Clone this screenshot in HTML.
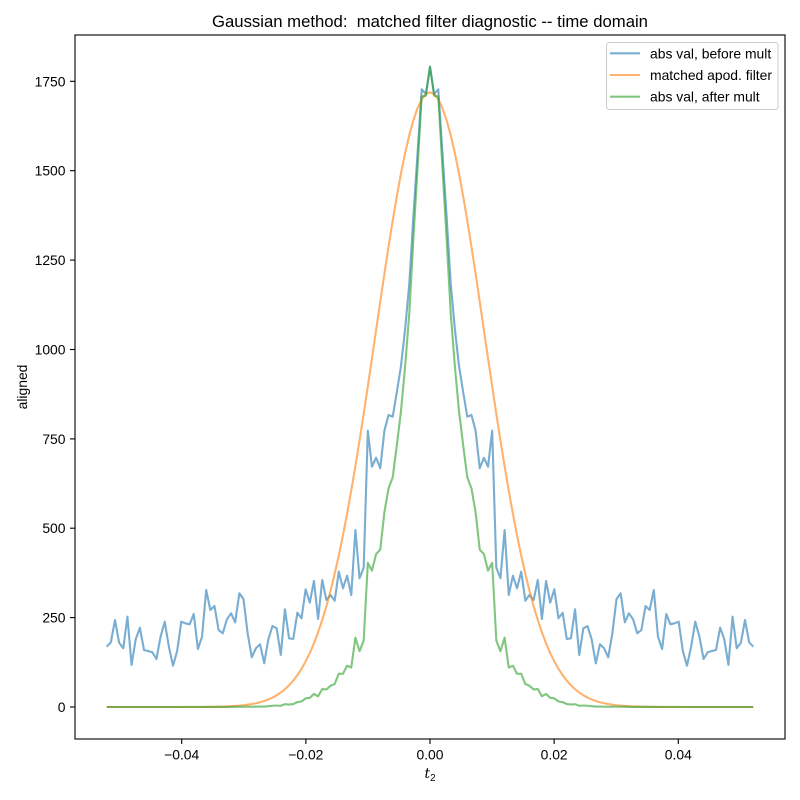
<!DOCTYPE html>
<html><head><meta charset="utf-8"><style>
html,body{margin:0;padding:0;background:#fff;}
svg{display:block;}
text{font-family:"Liberation Sans",Arial,sans-serif;fill:#000;}
</style></head><body>
<svg id="s" width="800" height="800" viewBox="0 0 800 800" xmlns="http://www.w3.org/2000/svg">
<rect x="0" y="0" width="800" height="800" fill="#fff"/>
<defs><clipPath id="c"><rect x="75" y="35" width="710" height="704"/></clipPath></defs>
<g clip-path="url(#c)">
<polyline id="pb" fill="none" stroke="#1f77b4" stroke-opacity="0.6" stroke-width="2.1" stroke-linejoin="round" points=""/>
<polyline id="po" fill="none" stroke="#ff7f0e" stroke-opacity="0.6" stroke-width="2.1" stroke-linejoin="round" points=""/>
<polyline id="pg" fill="none" stroke="#2ca02c" stroke-opacity="0.6" stroke-width="2.1" stroke-linejoin="round" points=""/>
</g>
<rect x="75" y="35" width="710" height="704" fill="none" stroke="#000" stroke-width="1.1"/>
<g stroke="#000" stroke-width="1.1">
<line x1="181.7" y1="739" x2="181.7" y2="744"/>
<line x1="305.85" y1="739" x2="305.85" y2="744"/>
<line x1="430" y1="739" x2="430" y2="744"/>
<line x1="554.15" y1="739" x2="554.15" y2="744"/>
<line x1="678.3" y1="739" x2="678.3" y2="744"/>
<line x1="70" y1="707" x2="75" y2="707"/>
<line x1="70" y1="617.6" x2="75" y2="617.6"/>
<line x1="70" y1="528.2" x2="75" y2="528.2"/>
<line x1="70" y1="438.9" x2="75" y2="438.9"/>
<line x1="70" y1="349.5" x2="75" y2="349.5"/>
<line x1="70" y1="260.1" x2="75" y2="260.1"/>
<line x1="70" y1="170.7" x2="75" y2="170.7"/>
<line x1="70" y1="81.3" x2="75" y2="81.3"/>
</g>
<g font-size="13.9" text-anchor="middle">
<text x="181.7" y="759.5">−0.04</text>
<text x="305.85" y="759.5">−0.02</text>
<text x="430" y="759.5">0.00</text>
<text x="554.15" y="759.5">0.02</text>
<text x="678.3" y="759.5">0.04</text>
</g>
<g font-size="13.9" text-anchor="end">
<text x="65.5" y="712">0</text>
<text x="65.5" y="622.6">250</text>
<text x="65.5" y="533.2">500</text>
<text x="65.5" y="443.9">750</text>
<text x="65.5" y="354.5">1000</text>
<text x="65.5" y="265.1">1250</text>
<text x="65.5" y="175.7">1500</text>
<text x="65.5" y="86.3">1750</text>
</g>
<text x="430" y="778" font-size="13.9" text-anchor="middle"><tspan font-style="italic" font-family="'DejaVu Serif','Liberation Serif',serif">t</tspan><tspan font-size="9.7" dy="3">2</tspan></text>
<text x="0" y="0" font-size="13.9" text-anchor="middle" transform="translate(27,387) rotate(-90)">aligned</text>
<text x="430" y="27" font-size="16.7" text-anchor="middle" xml:space="preserve" style="white-space:pre">Gaussian method:  matched filter diagnostic -- time domain</text>
<rect x="606.5" y="42.5" width="171.5" height="67" rx="3" ry="3" fill="#fff" fill-opacity="0.8" stroke="#cccccc" stroke-width="1"/>
<line x1="610" y1="53.3" x2="640" y2="53.3" stroke="#1f77b4" stroke-opacity="0.6" stroke-width="2.1"/>
<line x1="610" y1="75" x2="640" y2="75" stroke="#ff7f0e" stroke-opacity="0.6" stroke-width="2.1"/>
<line x1="610" y1="96.7" x2="640" y2="96.7" stroke="#2ca02c" stroke-opacity="0.6" stroke-width="2.1"/>
<g font-size="13.9">
<text x="650" y="58.3">abs val, before mult</text>
<text x="650" y="80">matched apod. filter</text>
<text x="650" y="101.7">abs val, after mult</text>
</g>
</svg>
<script>
(function(){
var L=[646.7,642.3,620,642.7,648.3,616.7,665,639.3,627.7,650,
651,652.3,659,636.7,621.7,646.7,665.7,651,621.7,623.3,
624.3,614,649,636.7,590,610,606,630,633.3,619.3,
613.3,622.3,593.3,599,633.3,657.3,648.3,644.3,663.3,639.3,
626,628.3,655,609.3,638.3,639,612.7,618.3,589.3,602.7,
581,619,580,600,595,600.7,571.7,588.3,575.7,595,
530,578.3,567.7,430.7,466.7,457.7,468.3,430.7,415,416.7,
392,366,329,284,216,153,89.3,94,66.7];
var y0=707, sp=323.3/78, sig=54.5, oh=614.7;
var b=[],o=[],g=[];
for(var k=0;k<=156;k++){
  var kk=k<=78?k:156-k;
  var x=430+(k-78)*sp;
  var d=x-430;
  var gg=Math.exp(-d*d/(2*sig*sig));
  var yb=L[kk];
  b.push(x.toFixed(2)+","+yb.toFixed(2));
  o.push(x.toFixed(2)+","+(y0-oh*gg).toFixed(2));
  g.push(x.toFixed(2)+","+(y0-(y0-yb)*gg).toFixed(2));
}
document.getElementById("pb").setAttribute("points",b.join(" "));
document.getElementById("po").setAttribute("points",o.join(" "));
document.getElementById("pg").setAttribute("points",g.join(" "));
})();
</script>
</body></html>
